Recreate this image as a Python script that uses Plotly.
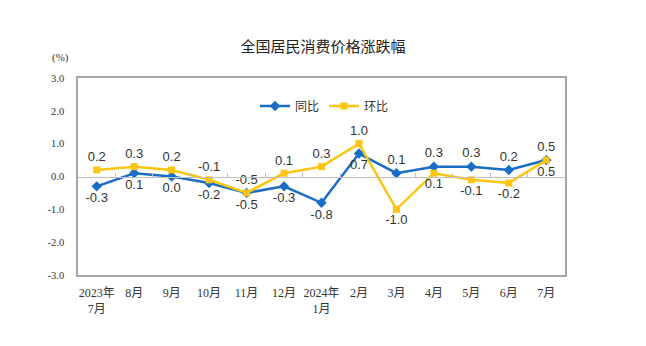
import plotly.graph_objects as go

categories = ["2023年<br>7月", "8月", "9月", "10月", "11月", "12月", "2024年<br>1月",
              "2月", "3月", "4月", "5月", "6月", "7月"]
yoy = [-0.3, 0.1, 0.0, -0.2, -0.5, -0.3, -0.8, 0.7, 0.1, 0.3, 0.3, 0.2, 0.5]
mom = [0.2, 0.3, 0.2, -0.1, -0.5, 0.1, 0.3, 1.0, -1.0, 0.1, -0.1, -0.2, 0.5]
y_ticks = [-3, -2, -1, 0, 1, 2, 3]

BLUE = "#1a6dc6"
YELLOW = "#fcc512"
CJK = "Noto Sans CJK SC"

x = list(range(len(categories)))

yoy_pos = ["top center" if a > b else "bottom center" for a, b in zip(yoy, mom)]
mom_pos = ["top center" if b >= a else "bottom center" for a, b in zip(yoy, mom)]

label_font = dict(family="Liberation Sans, Arial", size=13, color="#333333")

fig = go.Figure()
fig.add_trace(go.Scatter(
    x=x, y=yoy, name="同比", mode="lines+markers+text",
    line=dict(color=BLUE, width=2.5),
    marker=dict(symbol="diamond", size=8, color=BLUE),
    text=[f"{v:.1f}" for v in yoy], textposition=yoy_pos,
    textfont=label_font, cliponaxis=False,
))
fig.add_trace(go.Scatter(
    x=x, y=mom, name="环比", mode="lines+markers+text",
    line=dict(color=YELLOW, width=2.5),
    marker=dict(symbol="square", size=7, color=YELLOW),
    text=[f"{v:.1f}" for v in mom], textposition=mom_pos,
    textfont=label_font, cliponaxis=False,
))
fig.add_trace(go.Scatter(x=[None], y=[None], xaxis="x2", showlegend=False))

fig.update_layout(
    width=646, height=346,
    margin=dict(l=78, r=81, t=78, b=71),
    paper_bgcolor="white", plot_bgcolor="white",
    font=dict(family=CJK, color="#333333"),
    title=dict(text="全国居民消费价格涨跌幅", x=0.5, xanchor="center",
               y=1 - 47 / 346, yanchor="middle",
               font=dict(family=CJK, size=15, color="#222222")),
    showlegend=True,
    legend=dict(orientation="h", x=(255 - 78) / 487, xanchor="left",
                y=1 - (106 - 78) / 197, yanchor="middle",
                font=dict(family=CJK, size=12, color="#333333"),
                itemwidth=30, bgcolor="rgba(0,0,0,0)"),
    xaxis=dict(
        tickmode="array", tickvals=x, ticktext=categories,
        range=[-0.5, len(categories) - 0.5],
        showline=True, linecolor="#a6a6a6", linewidth=1.5, mirror=True,
        showgrid=False, ticks="", zeroline=False, ticklabelstandoff=6,
        tickfont=dict(family="Liberation Serif, " + CJK, size=12, color="#333333"),
    ),
    xaxis2=dict(
        overlaying="x", anchor="free", position=0.5,
        range=[-0.5, len(categories) - 0.5],
        tickmode="array", tickvals=[i + 0.5 for i in x[:-1]],
        showticklabels=False, ticks="inside", ticklen=4, tickcolor="#bfbfbf",
        showline=True, linecolor="#bfbfbf", linewidth=1, showgrid=False, zeroline=False,
    ),
    yaxis=dict(
        range=[-3, 3], tickmode="array", tickvals=y_ticks,
        ticktext=[f"{v:.1f}" for v in y_ticks],
        showline=True, linecolor="#a6a6a6", linewidth=1.5, mirror=True,
        showgrid=False, zeroline=False, ticks="", ticklabelstandoff=10,
        tickfont=dict(family="Liberation Serif", size=10.5, color="#333333"),
    ),
    annotations=[dict(text="(%)", x=(60 - 78) / 487, y=(346 - 71 - 58) / 197,
                      xref="paper", yref="paper", xanchor="center", yanchor="middle",
                      showarrow=False,
                      font=dict(family="Liberation Serif", size=11, color="#333333"))],
)

fig.write_html("out.html")
